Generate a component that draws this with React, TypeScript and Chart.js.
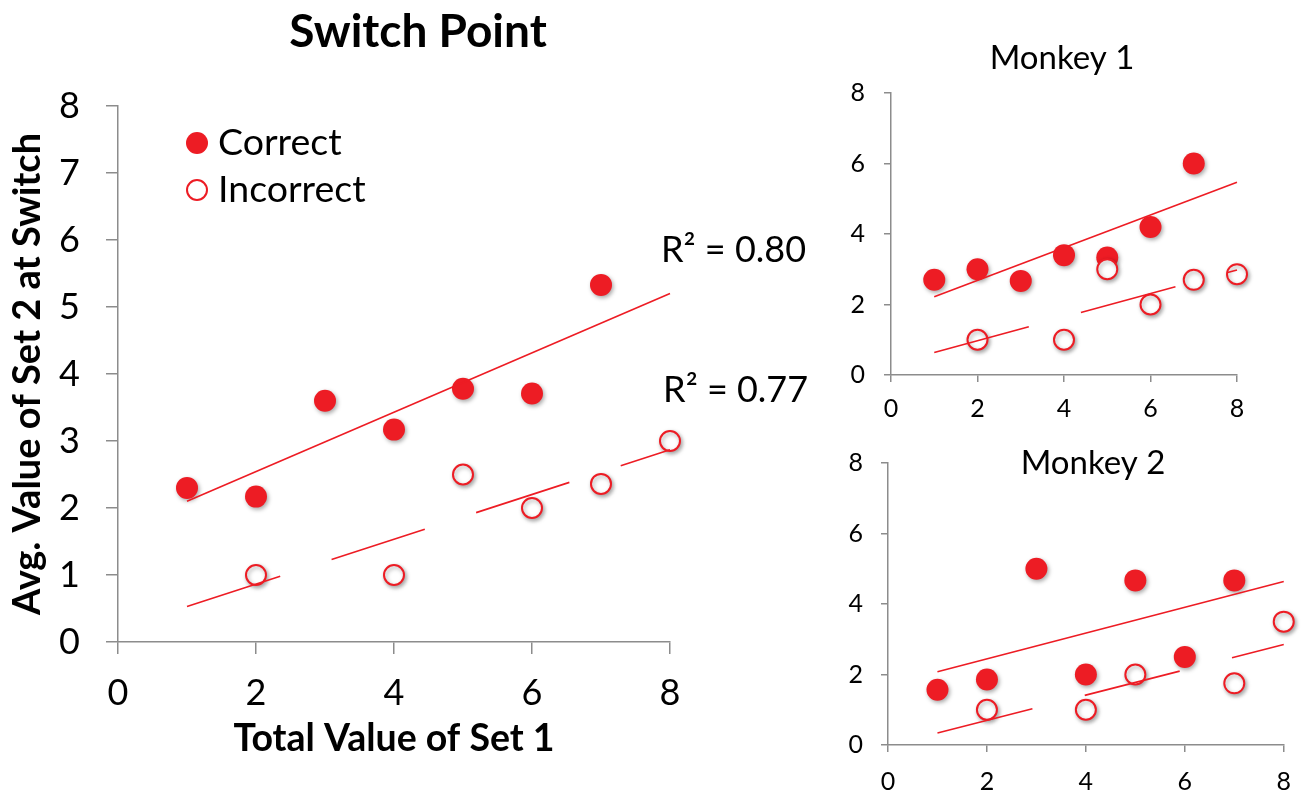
import React, { useEffect, useRef } from "react";
import { Chart, registerables } from "chart.js";

Chart.register(...registerables);

const RED = "#ED1C24";
const AXIS_GREY = "#8C8C8C";
const FONT = "Lato, 'Open Sans', 'DejaVu Sans', sans-serif";

// ---------------- tick values ----------------
const xTickValues = [0, 2, 4, 6, 8];
const mainYTickValues = [0, 1, 2, 3, 4, 5, 6, 7, 8];
const smallYTickValues = [0, 2, 4, 6, 8];

// ---------------- Switch Point (pooled) ----------------
const mainCorrectX = [1, 2, 3, 4, 5, 6, 7];
const mainCorrectY = [2.3, 2.17, 3.6, 3.17, 3.78, 3.71, 5.33];
const mainIncorrectX = [2, 4, 5, 6, 7, 8];
const mainIncorrectY = [1, 1, 2.5, 2, 2.36, 3];
const mainCorrectFitX = [1, 8];
const mainCorrectFitY = [2.1, 5.2];
const mainIncorrectFitX = [1, 8];
const mainIncorrectFitY = [0.53, 2.87];
const mainR2Text = ["R\u00B2 = 0.80", "R\u00B2 = 0.77"];
const mainR2PosX = [7.87, 7.9];
const mainR2PosY = [5.85, 3.75];

// ---------------- Monkey 1 ----------------
const m1CorrectX = [1, 2, 3, 4, 5, 6, 7];
const m1CorrectY = [2.7, 3.0, 2.67, 3.4, 3.33, 4.2, 6.0];
const m1IncorrectX = [2, 4, 5, 6, 7, 8];
const m1IncorrectY = [1, 1, 3, 2, 2.7, 2.86];
const m1CorrectFitX = [1, 8];
const m1CorrectFitY = [2.22, 5.47];
const m1IncorrectFitX = [1, 8];
const m1IncorrectFitY = [0.64, 2.98];

// ---------------- Monkey 2 ----------------
const m2CorrectX = [1, 2, 3, 4, 5, 6, 7];
const m2CorrectY = [1.57, 1.86, 5.0, 2.0, 4.67, 2.5, 4.67];
const m2IncorrectX = [2, 4, 5, 7, 8];
const m2IncorrectY = [1, 1, 2, 1.75, 3.5];
const m2CorrectFitX = [1, 8];
const m2CorrectFitY = [2.08, 4.64];
const m2IncorrectFitX = [1, 8];
const m2IncorrectFitY = [0.34, 2.85];

const pts = (xs: number[], ys: number[]) => xs.map((x, i) => ({ x, y: ys[i] }));

function buildDatasets(
  cx: number[], cy: number[], ix: number[], iy: number[],
  fcx: number[], fcy: number[], fix: number[], fiy: number[]
) {
  return [
    {
      label: "Correct trend",
      data: pts(fcx, fcy),
      showLine: true,
      borderColor: RED,
      borderWidth: 1.6,
      pointRadius: 0,
      pointHoverRadius: 0,
      order: 0,
      clip: false,
    },
    {
      label: "Incorrect trend",
      data: pts(fix, fiy),
      showLine: true,
      borderColor: RED,
      borderWidth: 1.6,
      borderDash: [98, 54],
      pointRadius: 0,
      pointHoverRadius: 0,
      order: 0,
      clip: false,
    },
    {
      label: "Incorrect",
      data: pts(ix, iy),
      showLine: false,
      backgroundColor: "#FFFFFF",
      borderColor: RED,
      borderWidth: 2,
      pointRadius: 10,
      pointHoverRadius: 10,
      order: 1,
      shadow: true,
      clip: false,
    },
    {
      label: "Correct",
      data: pts(cx, cy),
      showLine: false,
      backgroundColor: RED,
      borderColor: RED,
      borderWidth: 0,
      pointRadius: 11,
      pointHoverRadius: 11,
      order: 2,
      shadow: true,
      clip: false,
    },
  ];
}

const shadowPlugin = {
  id: "markerShadow",
  beforeDatasetDraw(chart: any, args: any) {
    const ds = chart.data.datasets[args.index];
    if (!ds || !ds.shadow) return;
    const ctx = chart.ctx;
    ctx.save();
    ctx.shadowColor = "rgba(0,0,0,0.35)";
    ctx.shadowBlur = 4;
    ctx.shadowOffsetX = 1.5;
    ctx.shadowOffsetY = 2;
  },
  afterDatasetDraw(chart: any, args: any) {
    const ds = chart.data.datasets[args.index];
    if (!ds || !ds.shadow) return;
    chart.ctx.restore();
  },
};

type TextItem = {
  text?: string;
  marker?: "filled" | "open";
  x: number;
  y: number;
  data?: boolean;
  r?: number;
  font?: string;
  align?: CanvasTextAlign;
};

function textPlugin(items: TextItem[]) {
  return {
    id: "fixedTexts",
    afterDatasetsDraw(chart: any) {
      const ctx = chart.ctx as CanvasRenderingContext2D;
      for (const it of items) {
        const px = it.data ? chart.scales.x.getPixelForValue(it.x) : it.x;
        const py = it.data ? chart.scales.y.getPixelForValue(it.y) : it.y;
        ctx.save();
        if (it.marker) {
          ctx.beginPath();
          ctx.arc(px, py, it.r || 10, 0, Math.PI * 2);
          if (it.marker === "filled") {
            ctx.fillStyle = RED;
            ctx.fill();
          } else {
            ctx.fillStyle = "#FFFFFF";
            ctx.fill();
            ctx.lineWidth = 2;
            ctx.strokeStyle = RED;
            ctx.stroke();
          }
        } else if (it.text) {
          ctx.font = it.font || `36px ${FONT}`;
          ctx.fillStyle = "#000000";
          ctx.textAlign = it.align || "left";
          ctx.textBaseline = "middle";
          ctx.fillText(it.text, px, py);
        }
        ctx.restore();
      }
    },
  };
}

type Spec = {
  datasets: any[];
  yTicks: number[];
  tickSize: number;
  tickLen: number;
  yPad: number;
  xPad: number;
  yWidth: number;
  xHeight: number;
  padTop: number;
  padRight: number;
  yTitle?: { text: string; size: number; padTop: number };
  xTitle?: { text: string; size: number; padBottom: number };
  texts: TextItem[];
};

function buildConfig(s: Spec): any {
  return {
    type: "scatter",
    data: { datasets: s.datasets },
    options: {
      responsive: false,
      animation: false,
      events: [],
      layout: { padding: { left: 0, top: s.padTop, right: s.padRight, bottom: 0 } },
      plugins: { legend: { display: false }, tooltip: { enabled: false }, title: { display: false } },
      scales: {
        x: {
          type: "linear",
          min: 0,
          max: 8,
          afterBuildTicks: (sc: any) => {
            sc.ticks = xTickValues.map((v) => ({ value: v }));
          },
          afterFit: (sc: any) => {
            sc.height = s.xHeight;
          },
          ticks: { font: { family: FONT, size: s.tickSize }, color: "#000000", padding: s.xPad, maxRotation: 0 },
          grid: { display: true, drawOnChartArea: false, drawTicks: true, tickLength: s.tickLen, color: AXIS_GREY, lineWidth: 1.5 },
          border: { display: true, color: AXIS_GREY, width: 1.5 },
          title: s.xTitle
            ? {
                display: true,
                text: s.xTitle.text,
                color: "#000000",
                font: { family: FONT, size: s.xTitle.size, weight: "bold" },
                padding: { top: 0, bottom: s.xTitle.padBottom },
              }
            : { display: false },
        },
        y: {
          type: "linear",
          min: 0,
          max: 8,
          afterBuildTicks: (sc: any) => {
            sc.ticks = s.yTicks.map((v) => ({ value: v }));
          },
          afterFit: (sc: any) => {
            sc.width = s.yWidth;
          },
          ticks: { font: { family: FONT, size: s.tickSize }, color: "#000000", padding: s.yPad },
          grid: { display: true, drawOnChartArea: false, drawTicks: true, tickLength: s.tickLen, color: AXIS_GREY, lineWidth: 1.5 },
          border: { display: true, color: AXIS_GREY, width: 1.5 },
          title: s.yTitle
            ? {
                display: true,
                text: s.yTitle.text,
                color: "#000000",
                font: { family: FONT, size: s.yTitle.size, weight: "bold" },
                padding: { top: s.yTitle.padTop, bottom: 0 },
              }
            : { display: false },
        },
      },
    },
    plugins: [shadowPlugin, textPlugin(s.texts)],
  };
}

function ChartBox({ spec, left, top, width, height }: { spec: Spec; left: number; top: number; width: number; height: number }) {
  const ref = useRef<HTMLCanvasElement>(null);
  useEffect(() => {
    if (!ref.current) return;
    const chart = new Chart(ref.current, buildConfig(spec));
    return () => chart.destroy();
  }, []);
  return (
    <div style={{ position: "absolute", left, top, width, height }}>
      <canvas ref={ref} width={width} height={height} style={{ display: "block", width, height }} />
    </div>
  );
}

const mainSpec: Spec = {
  datasets: buildDatasets(mainCorrectX, mainCorrectY, mainIncorrectX, mainIncorrectY, mainCorrectFitX, mainCorrectFitY, mainIncorrectFitX, mainIncorrectFitY),
  yTicks: mainYTickValues,
  tickSize: 36,
  tickLen: 12,
  yPad: 26,
  xPad: 18,
  yWidth: 118,
  xHeight: 154,
  padTop: 106,
  padRight: 170,
  yTitle: { text: "Avg. Value of Set 2 at Switch", size: 38, padTop: 5 },
  xTitle: { text: "Total Value of Set 1", size: 37.5, padBottom: 35 },
  texts: [
    { text: "Switch Point", x: 418, y: 32, font: `bold 46px ${FONT}`, align: "center" },
    { marker: "filled", x: 197, y: 143, r: 11 },
    { text: "Correct", x: 218, y: 143, font: `37.5px ${FONT}` },
    { marker: "open", x: 197, y: 190, r: 10 },
    { text: "Incorrect", x: 218, y: 190, font: `37.5px ${FONT}` },
    { text: mainR2Text[0], x: mainR2PosX[0], y: mainR2PosY[0], data: true, font: `36px ${FONT}` },
    { text: mainR2Text[1], x: mainR2PosX[1], y: mainR2PosY[1], data: true, font: `36px ${FONT}` },
  ],
};

const m1Spec: Spec = {
  datasets: buildDatasets(m1CorrectX, m1CorrectY, m1IncorrectX, m1IncorrectY, m1CorrectFitX, m1CorrectFitY, m1IncorrectFitX, m1IncorrectFitY),
  yTicks: smallYTickValues,
  tickSize: 25,
  tickLen: 7,
  yPad: 19,
  xPad: 12,
  yWidth: 51,
  xHeight: 55,
  padTop: 93,
  padRight: 69,
  texts: [{ text: "Monkey 1", x: 222, y: 58, font: `33px ${FONT}`, align: "center" }],
};

const m2Spec: Spec = {
  datasets: buildDatasets(m2CorrectX, m2CorrectY, m2IncorrectX, m2IncorrectY, m2CorrectFitX, m2CorrectFitY, m2IncorrectFitX, m2IncorrectFitY),
  yTicks: smallYTickValues,
  tickSize: 25,
  tickLen: 7,
  yPad: 18,
  xPad: 15,
  yWidth: 48,
  xHeight: 51,
  padTop: 19,
  padRight: 22,
  texts: [{ text: "Monkey 2", x: 253, y: 33, font: `33px ${FONT}`, align: "center" }],
};

export default function App() {
  return (
    <div style={{ position: "absolute", left: 0, top: 0, width: 1306, height: 796, background: "#FFFFFF", overflow: "hidden" }}>
      <ChartBox spec={mainSpec} left={0} top={0} width={840} height={796} />
      <ChartBox spec={m1Spec} left={840} top={0} width={466} height={430} />
      <ChartBox spec={m2Spec} left={840} top={430} width={466} height={366} />
    </div>
  );
}
